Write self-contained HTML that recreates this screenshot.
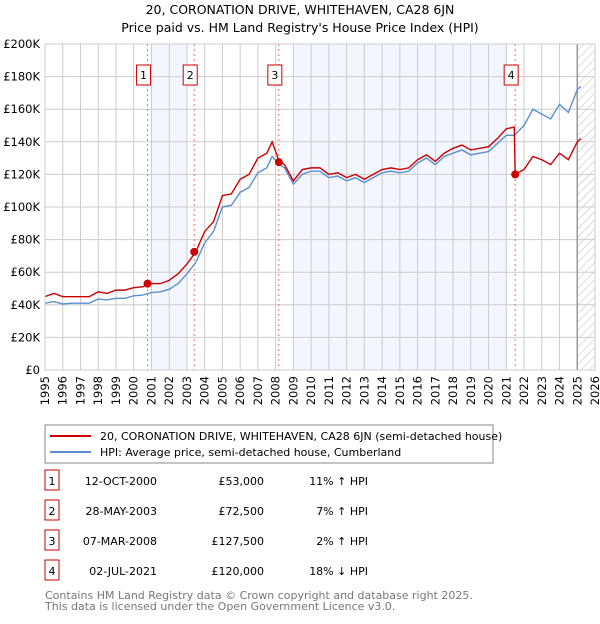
<!DOCTYPE html>
<html><head><meta charset="utf-8"><style>
body{margin:0;background:#fff;font-family:"DejaVu Sans","Liberation Sans",sans-serif;}
svg text{font-family:"DejaVu Sans","Liberation Sans",sans-serif;}
</style></head><body>
<svg id="c" width="600" height="620" xmlns="http://www.w3.org/2000/svg">
<defs><pattern id="hatch" width="6" height="6" patternUnits="userSpaceOnUse" patternTransform="rotate(45)"><line x1="0" y1="0" x2="0" y2="6" stroke="#bbb" stroke-width="1"/></pattern></defs>
<text x="300" y="14" text-anchor="middle" font-size="12.5">20, CORONATION DRIVE, WHITEHAVEN, CA28 6JN</text>
<text x="300" y="32" text-anchor="middle" font-size="12.5">Price paid vs. HM Land Registry's House Price Index (HPI)</text>
<g id="plot"></g>
<g>
<rect x="45" y="425" width="448" height="38" fill="#fff" stroke="#888"/>
<line x1="50" y1="436" x2="91" y2="436" stroke="#cc0000" stroke-width="2"/>
<text x="100" y="440" font-size="11">20, CORONATION DRIVE, WHITEHAVEN, CA28 6JN (semi-detached house)</text>
<line x1="50" y1="452" x2="91" y2="452" stroke="#5b8fd0" stroke-width="2"/>
<text x="100" y="456" font-size="11">HPI: Average price, semi-detached house, Cumberland</text>
</g>
<g id="tbl" font-size="11"></g>
<text x="45" y="599" font-size="11" fill="#777">Contains HM Land Registry data © Crown copyright and database right 2025.</text>
<text x="45" y="610" font-size="11" fill="#777">This data is licensed under the Open Government Licence v3.0.</text>
</svg>
<script>
const yearTicks=[1995,1996,1997,1998,1999,2000,2001,2002,2003,2004,2005,2006,2007,2008,2009,2010,2011,2012,2013,2014,2015,2016,2017,2018,2019,2020,2021,2022,2023,2024,2025,2026];
const valueTicks=[0,20,40,60,80,100,120,140,160,180,200];
const valueTickLabels=["£0","£20K","£40K","£60K","£80K","£100K","£120K","£140K","£160K","£180K","£200K"];
const hpiYears=[1995,1995.5,1996,1996.5,1997,1997.5,1998,1998.5,1999,1999.5,2000,2000.5,2001,2001.5,2002,2002.5,2003,2003.5,2004,2004.5,2005,2005.5,2006,2006.5,2007,2007.5,2007.8,2008.2,2008.5,2009,2009.5,2010,2010.5,2011,2011.5,2012,2012.5,2013,2013.5,2014,2014.5,2015,2015.5,2016,2016.5,2017,2017.5,2018,2018.5,2019,2019.5,2020,2020.5,2021,2021.45,2022,2022.5,2023,2023.5,2024,2024.5,2025,2025.2];
const hpiValues=[41,42,40.5,41,41,41,43.5,43,44,44,45.5,46,47.5,48,49.5,53,59,66,78,85,100,101,109,112,121,124,131,126,124,114,120,122,122,118,119,116,118,115,118,121,122,121,122,127,130,126,131,133,135,132,133,134,139,144,144,150,160,157,154,163,158,172,174];
const priceYears=[1995,1995.5,1996,1996.5,1997,1997.5,1998,1998.5,1999,1999.5,2000,2000.5,2001,2001.5,2002,2002.5,2003,2003.5,2004,2004.5,2005,2005.5,2006,2006.5,2007,2007.5,2007.8,2008.2,2008.5,2009,2009.5,2010,2010.5,2011,2011.5,2012,2012.5,2013,2013.5,2014,2014.5,2015,2015.5,2016,2016.5,2017,2017.5,2018,2018.5,2019,2019.5,2020,2020.5,2021,2021.45,2021.5,2022,2022.5,2023,2023.5,2024,2024.5,2025,2025.2];
const priceValues=[45,47,45,45,45,45,48,47,49,49,50.5,51,53,53,55,59,65,72.5,85,91,107,108,117,120,130,133,140,128,126,116,123,124,124,120,121,118,120,117,120,123,124,123,124,129,132,128,133,136,138,135,136,137,142,148,149,120,123,131,129,126,133,129,140,142];
const saleLabels=["1","2","3","4"];
const saleYears=[2000.78,2003.41,2008.18,2021.5];
const saleValues=[53,72.5,127.5,120];
const saleDates=["12-OCT-2000","28-MAY-2003","07-MAR-2008","02-JUL-2021"];
const salePrices=["£53,000","£72,500","£127,500","£120,000"];
const saleDiffs=["11% ↑ HPI","7% ↑ HPI","2% ↑ HPI","18% ↓ HPI"];
const shadeRanges=[[2001,2003],[2009,2021]];

const NS="http://www.w3.org/2000/svg";
const X0=45,X1=595,Y0=370,Y1=44;
const xs=y=>X0+(y-1995)/(2026-1995)*(X1-X0);
const ys=v=>Y0-v/200*(Y0-Y1);
function mk(tag,attrs,parent){const e=document.createElementNS(NS,tag);for(const k in attrs)e.setAttribute(k,attrs[k]);parent.appendChild(e);return e;}
const plot=document.getElementById('plot');
mk('rect',{x:X0,y:Y1,width:X1-X0,height:Y0-Y1,fill:'#fff'},plot);
shadeRanges.forEach(r=>{const e=mk('rect',{x:xs(r[0]),y:Y1,width:xs(r[1])-xs(r[0]),height:Y0-Y1,fill:'#f3f6fe'},plot);

});
const h=mk('rect',{x:xs(2025),y:Y1,width:X1-xs(2025),height:Y0-Y1,fill:'url(#hatch)'},plot);


yearTicks.forEach(yr=>{mk('line',{x1:xs(yr),x2:xs(yr),y1:Y1,y2:Y0,stroke:'#ccc','stroke-width':1},plot);
const t=mk('text',{x:0,y:0,'font-size':11.5,'text-anchor':'end',transform:`translate(${xs(yr)+4},${Y0+6}) rotate(-90)`},plot);
t.textContent=yr;

});
valueTicks.forEach((v,i)=>{mk('line',{x1:X0,x2:X1,y1:ys(v),y2:ys(v),stroke:'#ccc','stroke-width':1},plot);
const t=mk('text',{x:X0-5,y:ys(v)+4,'font-size':11.5,'text-anchor':'end'},plot);
t.textContent=valueTickLabels[i];

});
mk('line',{x1:xs(2025),x2:xs(2025),y1:Y1,y2:Y0,stroke:'#999','stroke-width':1.5},plot);
saleYears.forEach((yr,i)=>{mk('line',{x1:xs(yr),x2:xs(yr),y1:Y1,y2:Y0,stroke:'#f26b6b','stroke-width':1,'stroke-dasharray':'2,3'},plot);});
const hp=mk('polyline',{points:hpiYears.map((y,i)=>xs(y)+','+ys(hpiValues[i])).join(' '),fill:'none',stroke:'#5b8fd0','stroke-width':1.4},plot);


const pp=mk('polyline',{points:priceYears.map((y,i)=>xs(y)+','+ys(priceValues[i])).join(' '),fill:'none',stroke:'#cc0000','stroke-width':1.4},plot);


saleYears.forEach((yr,i)=>{const c=mk('circle',{cx:xs(yr),cy:ys(saleValues[i]),r:4,fill:'#cc0000'},plot);


const bx=xs(yr)-4;
const r=mk('rect',{x:bx-7,y:65,width:14,height:20,fill:'#fff',stroke:'#cc0000'},plot);


const t=mk('text',{x:bx,y:79,'font-size':11,'text-anchor':'middle'},plot);
t.textContent=saleLabels[i];

});
mk('rect',{x:X0,y:Y1,width:X1-X0,height:Y0-Y1,fill:'none',stroke:'#ccc'},plot);
const tbl=document.getElementById('tbl');
saleLabels.forEach((l,i)=>{const y=481+i*30;
const r=mk('rect',{x:45,y:y-11,width:14,height:20,fill:'#fff',stroke:'#cc0000'},tbl);


const a=mk('text',{x:52,y:y+4,'text-anchor':'middle'},tbl);a.textContent=l;


const d=mk('text',{x:157,y:y+4,'text-anchor':'end'},tbl);d.textContent=saleDates[i];


const p=mk('text',{x:264,y:y+4,'text-anchor':'end'},tbl);p.textContent=salePrices[i];


const q=mk('text',{x:368,y:y+4,'text-anchor':'end'},tbl);q.textContent=saleDiffs[i];

});
</script>
</body></html>
